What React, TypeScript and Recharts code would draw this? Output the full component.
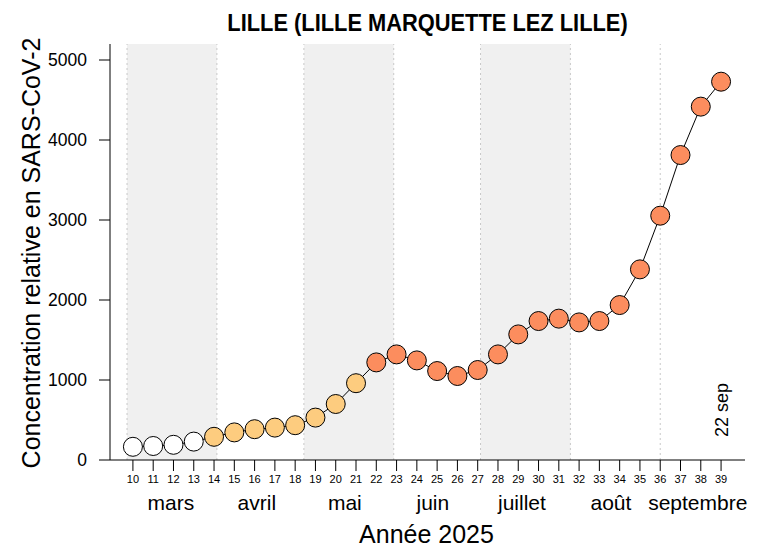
import React from "react";
import {
  ComposedChart,
  Line,
  XAxis,
  YAxis,
  ReferenceArea,
  ReferenceLine,
} from "recharts";

const WEEKS = [10, 11, 12, 13, 14, 15, 16, 17, 18, 19, 20, 21, 22, 23, 24, 25, 26, 27, 28, 29, 30, 31, 32, 33, 34, 35, 36, 37, 38, 39];
const VALUES = [165, 175, 190, 230, 290, 345, 385, 405, 435, 530, 700, 960, 1220, 1320, 1245, 1112, 1050, 1125, 1320, 1570, 1737, 1767, 1720, 1737, 1937, 2383, 3054, 3812, 4417, 4729];
// 0 = faible, 1 = modéré, 2 = élevé
const LEVELS = [0, 0, 0, 0, 1, 1, 1, 1, 1, 1, 1, 1, 2, 2, 2, 2, 2, 2, 2, 2, 2, 2, 2, 2, 2, 2, 2, 2, 2, 2];
const LEVEL_COLORS = ["#ffffff", "#fdcc7f", "#fc8d5e"];

const MONTH_STARTS = [9.71, 14.14, 18.43, 22.86, 27.14, 31.57, 36.0];
const SHADED = [
  [9.71, 14.14],
  [18.43, 22.86],
  [27.14, 31.57],
];
const MONTH_NAMES = ["mars", "avril", "mai", "juin", "juillet", "août", "septembre"];
const MONTH_LABEL_POS = [11.87, 16.11, 20.45, 24.79, 29.18, 33.57, 37.85];
const Y_TICKS = [0, 1000, 2000, 3000, 4000, 5000];

const data = WEEKS.map((w, i) => ({ week: w, value: VALUES[i], level: LEVELS[i] }));

const FONT = "'Liberation Sans', Arial, sans-serif";
const DOMAIN: [number, number] = [8.87, 40.18];

export default function App() {
  return (
    <div style={{ position: "absolute", left: 0, top: 0, width: 767, height: 548, background: "#fff", fontFamily: FONT }}>
      <div
        style={{
          position: "absolute",
          left: 110,
          width: 635,
          top: 11,
          textAlign: "center",
          fontWeight: "bold",
          fontSize: 24,
          lineHeight: "24px",
          whiteSpace: "nowrap",
          transform: "scaleX(0.91)",
          transformOrigin: "center",
        }}
      >
        LILLE (LILLE MARQUETTE LEZ LILLE)
      </div>
      <ComposedChart
        width={767}
        height={548}
        data={data}
        margin={{ top: 44, right: 22, bottom: 0, left: 0 }}
        style={{ fontFamily: FONT }}
      >
        {SHADED.map(([a, b], i) => (
          <ReferenceArea key={"a" + i} x1={a} x2={b} fill="#f0f0f0" fillOpacity={1} stroke="none" />
        ))}
        {MONTH_STARTS.map((m, i) => (
          <ReferenceLine key={"l" + i} x={m} stroke="#c8c8c8" strokeDasharray="2 3" strokeWidth={1} />
        ))}
        <ReferenceLine
          x={39}
          stroke="none"
          label={(props: any) => {
            const vb = props.viewBox;
            const cx = vb.x + 7;
            const cy = vb.y + vb.height - 50;
            return (
              <text
                x={cx}
                y={cy}
                fontSize={18}
                fill="#000"
                textAnchor="middle"
                transform={`rotate(-90 ${cx} ${cy})`}
              >
                22 sep
              </text>
            );
          }}
        />
        <XAxis
          xAxisId={0}
          dataKey="week"
          type="number"
          domain={DOMAIN}
          ticks={WEEKS}
          interval={0}
          allowDataOverflow
          height={30}
          stroke="#000"
          tickSize={11}
          tickMargin={4}
          tick={{ fontSize: 11, fill: "#000" }}
          tickLine={{ stroke: "#000" }}
        />
        <XAxis
          xAxisId="month"
          dataKey="week"
          type="number"
          domain={DOMAIN}
          ticks={MONTH_LABEL_POS}
          interval={0}
          allowDataOverflow
          height={58}
          axisLine={false}
          tickLine={false}
          tickSize={0}
          tickMargin={5}
          tick={{ fontSize: 21, fill: "#000" }}
          tickFormatter={(v: number) => MONTH_NAMES[MONTH_LABEL_POS.indexOf(v)] ?? ""}
          label={(props: any) => {
            const vb = props.viewBox;
            return (
              <text x={vb.x + vb.width / 2 - 1} y={vb.y + 53} fontSize={25} fill="#000" textAnchor="middle">
                Année 2025
              </text>
            );
          }}
        />
        <YAxis
          type="number"
          domain={[0, 5200]}
          ticks={Y_TICKS}
          interval={0}
          width={110}
          stroke="#000"
          tickSize={11}
          tickMargin={12}
          tick={{ fontSize: 17.5, fill: "#000" }}
          label={(props: any) => {
            const vb = props.viewBox;
            const cx = 40;
            const cy = vb.y + vb.height / 2 + 1;
            return (
              <text
                x={cx}
                y={cy}
                fontSize={25}
                fill="#000"
                textAnchor="middle"
                transform={`rotate(-90 ${cx} ${cy})`}
              >
                Concentration relative en SARS-CoV-2
              </text>
            );
          }}
        />
        <Line
          dataKey="value"
          stroke="#000"
          strokeWidth={1}
          isAnimationActive={false}
          activeDot={false}
          dot={(p: any) => (
            <circle
              key={"d" + p.index}
              cx={p.cx}
              cy={p.cy}
              r={9.5}
              fill={LEVEL_COLORS[p.payload.level]}
              stroke="#000"
              strokeWidth={1}
            />
          )}
        />
      </ComposedChart>
    </div>
  );
}
